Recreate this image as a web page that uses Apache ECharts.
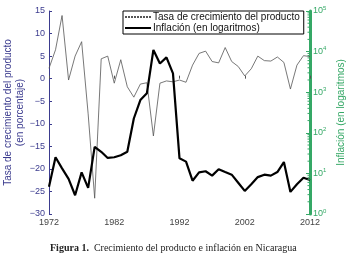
<!DOCTYPE html>
<html>
<head>
<meta charset="utf-8">
<script src="https://cdn.jsdelivr.net/npm/echarts@6/dist/echarts.min.js"></script>
<style>
html, body { margin: 0; padding: 0; background: #fff; }
#chart { width: 354px; height: 254px; }
</style>
</head>
<body>
<div id="chart"></div>
<script>
// datos
var years = [1972, 1973, 1974, 1975, 1976, 1977, 1978, 1979, 1980, 1981,
	1982, 1983, 1984, 1985, 1986, 1987, 1988, 1989, 1990, 1991,
	1992, 1993, 1994, 1995, 1996, 1997, 1998, 1999, 2000, 2001,
	2002, 2003, 2004, 2005, 2006, 2007, 2008, 2009, 2010, 2011, 2012];
var growth = [2.3, 6.4, 14.0, -0.3, 5.0, 8.2, -7.8, -26.5, 4.4, 5.0,
	-1.0, 4.2, -1.8, -4.1, -1.2, -0.9, -12.7, -1.0, -0.5, -0.7,
	-0.3, -0.8, 3.0, 5.6, 6.1, 3.8, 3.5, 6.9, 3.8, 2.7,
	0.6, 2.2, 5.0, 4.0, 3.9, 4.8, 3.6, -2.3, 3.0, 5.1, 4.9];
var inflation = [4.7, 25, 13.3, 7.3, 2.9, 10.6, 4.4, 45, 34, 24,
	25, 28, 34, 225, 640, 940, 11000, 5100, 7200, 2900,
	23.5, 19.5, 6.6, 10.6, 11.3, 8.8, 12.6, 10.8, 9.3, 5.9,
	3.7, 5.4, 8.1, 9.3, 8.8, 10.8, 19, 3.5, 5.4, 7.8, 6.9];
var xTicks = [1972, 1982, 1992, 2002, 2012];

var navy = '#3b3b8e';
var green = '#35a866';

// ticks menores del eje logaritmico (2..9 x 10^n)
var minorTicks = [];
for (var n = 0; n < 5; n++) {
	for (var m = 2; m <= 9; m++) {
		minorTicks.push(m * Math.pow(10, n));
	}
}

function pairs(vals) {
	return years.map(function (y, i) {
		return [y, vals[i]];
	});
}

var myChart = echarts.init(document.getElementById('chart'));
var option = {
	backgroundColor: '#fff',
	animation: false,
	title: {
		text: '{b|Figura 1.}  Crecimiento del producto e inflación en Nicaragua',
		left: 45,
		top: 238,
		textStyle: {
			fontFamily: 'Liberation Serif',
			fontSize: 10,
			fontWeight: 'normal',
			color: '#222',
			rich: {
				b: { fontFamily: 'Liberation Serif', fontSize: 10, fontWeight: 'bold', color: '#222' }
			}
		}
	},
	legend: {
		left: 123,
		top: 11,
		orient: 'vertical',
		itemGap: 1,
		itemWidth: 26,
		itemHeight: 6,
		padding: [1, 4, 1, 1],
		borderColor: '#000',
		borderWidth: 1,
		backgroundColor: '#fff',
		itemStyle: { color: 'transparent', borderColor: 'transparent', borderWidth: 0 },
		textStyle: { fontFamily: 'Liberation Sans', fontSize: 10, color: '#111', padding: [0, 0, 0, -3] },
		data: [
			{ name: 'Tasa de crecimiento del producto', lineStyle: { type: [2, 1] } },
			{ name: 'Inflación (en logaritmos)' }
		]
	},
	grid: { left: 49, right: 44, top: 11, bottom: 40, outerBoundsMode: 'none' },
	xAxis: {
		type: 'value',
		min: 1972,
		max: 2012,
		interval: 10,
		axisLine: { show: false },
		axisTick: { show: true, inside: true, length: 3, lineStyle: { color: '#555' } },
		axisLabel: {
			fontFamily: 'Liberation Sans', fontSize: 9, color: '#444', margin: 4,
			customValues: xTicks,
			formatter: function (v) { return String(v); }
		},
		splitLine: { show: false }
	},
	yAxis: [{
		type: 'value',
		min: -30,
		max: 15,
		interval: 5,
		name: 'Tasa de crecimiento del producto\n(en porcentaje)',
		nameLocation: 'middle',
		nameGap: 23,
		nameMoveOverlap: false,
		nameTextStyle: { fontFamily: 'Liberation Sans', fontSize: 10, color: navy, lineHeight: 12 },
		axisLine: { show: true, lineStyle: { color: navy, width: 1 } },
		axisTick: { show: true, inside: true, length: 3, lineStyle: { color: navy } },
		axisLabel: {
			fontFamily: 'Liberation Sans', fontSize: 9, color: navy, margin: 4,
			formatter: function (v) { return v < 0 ? '\u2212' + Math.abs(v) : String(v); }
		},
		splitLine: { show: false }
	}, {
		type: 'log',
		logBase: 10,
		min: 1,
		max: 100000,
		position: 'right',
		name: 'Inflación (en logaritmos)',
		nameLocation: 'middle',
		nameGap: 26,
		nameMoveOverlap: false,
		nameRotate: 90,
		nameTextStyle: { fontFamily: 'Liberation Sans', fontSize: 10, color: green },
		axisLine: { show: true, lineStyle: { color: green, width: 3 } },
		axisTick: { show: true, inside: true, length: 4, lineStyle: { color: green } },
		axisLabel: {
			fontFamily: 'Liberation Sans', fontSize: 9, color: green, margin: 3,
			formatter: function (v) {
				var e = Math.round(Math.log(v) / Math.LN10);
				return '10{s|' + e + '}';
			},
			rich: { s: { fontSize: 6, color: green, verticalAlign: 'top', padding: [0, 0, 6, 0] } }
		},
		splitLine: { show: false }
	}],
	series: [{
		name: 'Tasa de crecimiento del producto',
		type: 'line',
		yAxisIndex: 0,
		data: pairs(growth),
		symbol: 'none',
		lineStyle: { color: '#555', width: 0.8 },
		itemStyle: { color: '#555' },
		z: 2
	}, {
		name: 'Inflación (en logaritmos)',
		type: 'line',
		yAxisIndex: 1,
		data: pairs(inflation),
		symbol: 'none',
		lineStyle: { color: '#000', width: 2.2 },
		itemStyle: { color: '#000' },
		z: 3
	}, {
		name: 'minor',
		type: 'custom',
		yAxisIndex: 1,
		silent: true,
		data: minorTicks.map(function (v) { return [2012, v]; }),
		renderItem: function (params, api) {
			var p = api.coord([api.value(0), api.value(1)]);
			return {
				type: 'line',
				shape: { x1: p[0] - 2.5, y1: p[1], x2: p[0], y2: p[1] },
				style: { stroke: green, lineWidth: 1 }
			};
		},
		z: 4
	}]
};
myChart.setOption(option);
window.addEventListener('resize', function () {
	myChart.resize();
});
</script>
</body>
</html>
